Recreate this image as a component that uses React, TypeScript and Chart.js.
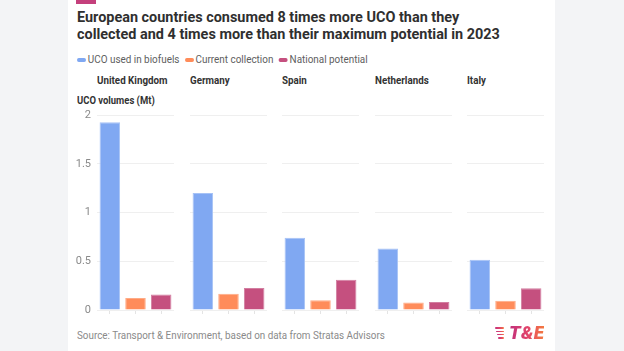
import React, { useEffect, useRef } from 'react';
import { Chart, registerables } from 'chart.js';

Chart.register(...registerables);

const countries = ['United Kingdom', 'Germany', 'Spain', 'Netherlands', 'Italy'];
const seriesNames = ['UCO used in biofuels', 'Current collection', 'National potential'];
const ucoUsed = [1.925, 1.2, 0.74, 0.63, 0.515];
const currentCollection = [0.123, 0.167, 0.1, 0.076, 0.095];
const nationalPotential = [0.16, 0.225, 0.31, 0.082, 0.222];
const yTickValues = [0, 0.5, 1, 1.5, 2];
const seriesColors = ['#80a8f2', '#ff8c5a', '#c5507f'];
const seriesBorders = ['#a6c2f6', '#ffab86', '#d27ea0'];

const FONT = 'Roboto, "Noto Sans", Arial, sans-serif';
const PANEL_W = 77;
const PANEL_LEFTS = [97, 189.5, 282, 374.5, 467];
const CANVAS_TOP = 107;
const CANVAS_H = 215;
const YAXIS_W = 29;

function Panel({ index }: { index: number }) {
  const ref = useRef<HTMLCanvasElement | null>(null);
  const showY = index === 0;
  const left = showY ? PANEL_LEFTS[index] - YAXIS_W : PANEL_LEFTS[index];
  const width = showY ? PANEL_W + YAXIS_W : PANEL_W;

  useEffect(() => {
    if (!ref.current) return;
    const chart = new Chart(ref.current, {
      type: 'bar',
      data: {
        labels: seriesNames,
        datasets: [
          {
            data: [ucoUsed[index], currentCollection[index], nationalPotential[index]],
            backgroundColor: seriesColors,
            borderColor: seriesBorders,
            borderWidth: 1,
            barPercentage: 0.8,
            categoryPercentage: 1,
          },
        ],
      },
      options: {
        responsive: false,
        maintainAspectRatio: false,
        animation: false,
        layout: { padding: { top: 8, left: 0, right: 0, bottom: 0 } },
        plugins: { legend: { display: false }, tooltip: { enabled: false } },
        scales: {
          x: {
            grid: {
              display: true,
              drawOnChartArea: false,
              drawTicks: true,
              tickLength: 4,
              color: '#e4e4e4',
              offset: false,
            },
            border: { display: false },
            ticks: { display: false },
            afterFit: (s: any) => {
              s.height = 12;
              s.paddingLeft = 0;
              s.paddingRight = 0;
            },
          },
          y: {
            min: 0,
            max: 2,
            afterBuildTicks: (s: any) => {
              s.ticks = yTickValues.map((v) => ({ value: v }));
            },
            grid: { color: '#efefef', drawTicks: false, lineWidth: 1 },
            border: { display: false },
            ticks: {
              display: showY,
              padding: 6,
              color: '#8a8a8a',
              font: { family: FONT, size: 11 },
              callback: (v: any) => String(Number(v)),
            },
            afterFit: (s: any) => {
              s.width = showY ? YAXIS_W : 0;
              s.paddingTop = 0;
              s.paddingBottom = 0;
            },
          },
        },
      },
    });
    return () => chart.destroy();
  }, [index]);

  return (
    <canvas
      ref={ref}
      width={width}
      height={CANVAS_H}
      style={{ position: 'absolute', left, top: CANVAS_TOP, width, height: CANVAS_H }}
    />
  );
}

function Logo() {
  const grad = 'linear-gradient(90deg, #c12f7c 0%, #e2456a 55%, #f47a3e 100%)';
  const stripes = [9, 8, 7, 6];
  return (
    <div style={{ position: 'absolute', left: 495, top: 324, height: 18, display: 'flex', alignItems: 'center' }}>
      <div style={{ display: 'flex', flexDirection: 'column', alignItems: 'flex-end', gap: 1.6, marginRight: 5, width: 9 }}>
        {stripes.map((w, i) => (
          <div key={i} style={{ width: w, height: 1.7, background: grad, borderRadius: 1 }} />
        ))}
      </div>
      <span
        style={{
          fontFamily: FONT,
          fontWeight: 900,
          fontStyle: 'italic',
          fontSize: 19,
          lineHeight: '18px',
          background: grad,
          WebkitBackgroundClip: 'text',
          backgroundClip: 'text',
          color: 'transparent',
          letterSpacing: 0.3,
        }}
      >
        T&amp;E
      </span>
    </div>
  );
}

const squeeze = (k: number): React.CSSProperties => ({
  transform: `scaleX(${k})`,
  transformOrigin: 'left center',
});

export default function App() {
  useEffect(() => {
    document.body.style.margin = '0';
  }, []);

  const legendItems = seriesNames.map((name, i) => (
    <span key={name} style={{ display: 'inline-flex', alignItems: 'center', marginRight: 6 }}>
      <span
        style={{
          display: 'inline-block',
          width: 10,
          height: 4,
          borderRadius: 2,
          background: seriesColors[i],
          marginRight: 2,
        }}
      />
      {name}
    </span>
  ));

  return (
    <div
      style={{
        position: 'fixed',
        left: 0,
        top: 0,
        width: 624,
        height: 351,
        background: '#f3f4f6',
        overflow: 'hidden',
        fontFamily: FONT,
      }}
    >
      <div style={{ position: 'absolute', left: 68, top: 0, width: 487, height: 351, background: '#ffffff' }} />
      <div style={{ position: 'absolute', left: 76, top: 0, width: 20, height: 4, background: '#c4407c' }} />
      <div
        style={{
          position: 'absolute',
          left: 77,
          top: 9,
          fontSize: 15,
          lineHeight: '17px',
          fontWeight: 700,
          color: '#2f2f2f',
          whiteSpace: 'nowrap',
          ...squeeze(0.962),
        }}
      >
        European countries consumed 8 times more UCO than they
        <br />
        collected and 4 times more than their maximum potential in 2023
      </div>
      <div
        style={{
          position: 'absolute',
          left: 77,
          top: 53,
          fontSize: 11,
          lineHeight: '14px',
          color: '#5e5e5e',
          whiteSpace: 'nowrap',
          display: 'flex',
          ...squeeze(0.9),
        }}
      >
        {legendItems}
      </div>
      {countries.map((c, i) => (
        <div
          key={c}
          style={{
            position: 'absolute',
            left: PANEL_LEFTS[i],
            top: 74,
            fontSize: 11,
            lineHeight: '14px',
            fontWeight: 700,
            color: '#333',
            whiteSpace: 'nowrap',
            ...squeeze(0.89),
          }}
        >
          {c}
        </div>
      ))}
      <div
        style={{
          position: 'absolute',
          left: 77,
          top: 94,
          fontSize: 10.5,
          lineHeight: '14px',
          fontWeight: 700,
          color: '#333',
          whiteSpace: 'nowrap',
          ...squeeze(0.9),
        }}
      >
        UCO volumes (Mt)
      </div>
      {countries.map((c, i) => (
        <Panel key={c} index={i} />
      ))}
      <div
        style={{
          position: 'absolute',
          left: 77,
          top: 329,
          fontSize: 11,
          lineHeight: '14px',
          color: '#8a8a8a',
          whiteSpace: 'nowrap',
          ...squeeze(0.895),
        }}
      >
        Source: Transport &amp; Environment, based on data from Stratas Advisors
      </div>
      <Logo />
    </div>
  );
}
